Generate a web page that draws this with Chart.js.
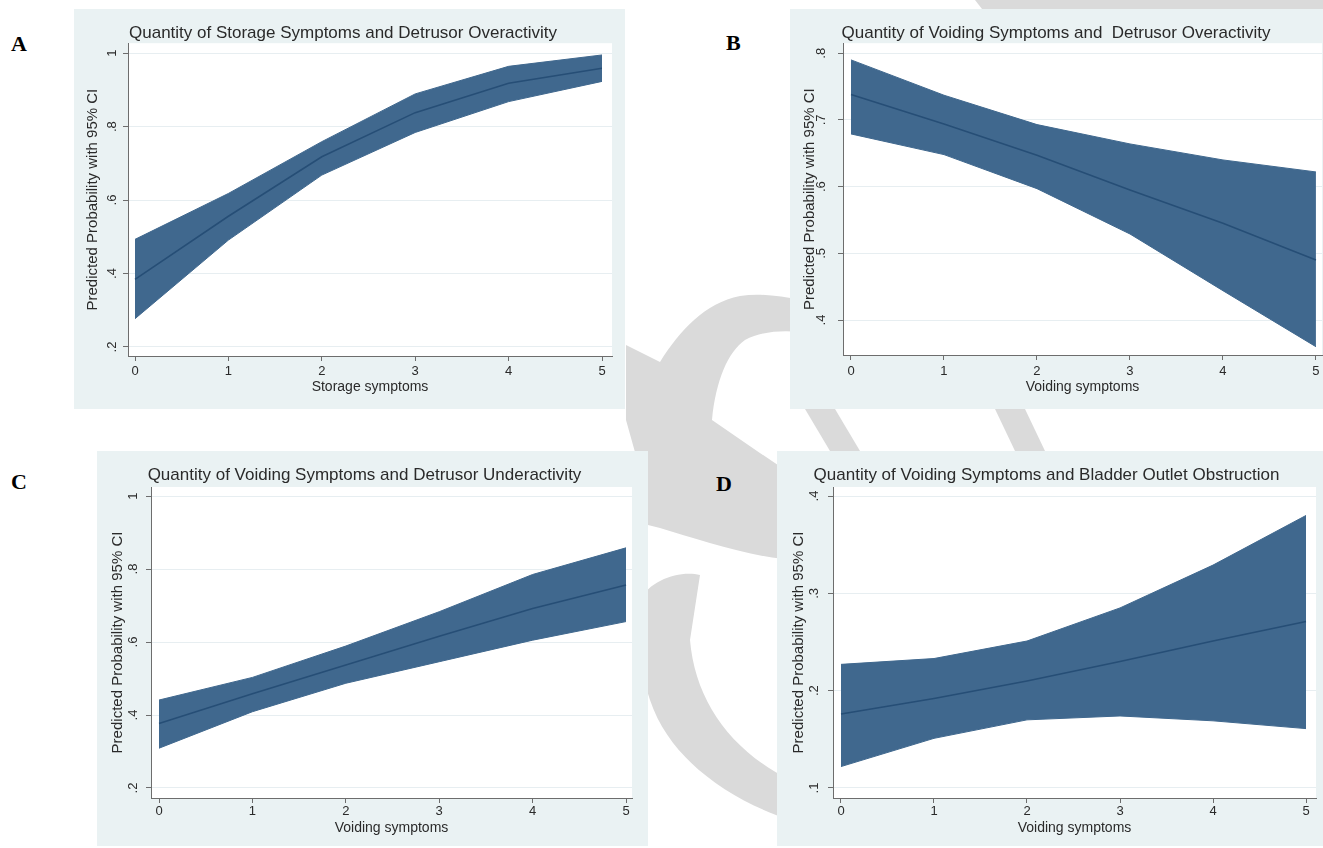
<!DOCTYPE html>
<html><head><meta charset="utf-8">
<script src="https://cdn.jsdelivr.net/npm/chart.js@4"></script>
<style>
html,body{margin:0;padding:0;background:#fff;}
body{width:1323px;height:848px;overflow:hidden;position:relative;}
canvas{position:absolute;}
svg.wm{position:absolute;left:0;top:0;}
.lbl{position:absolute;font:bold 22px "Liberation Serif","Times New Roman",serif;color:#000;line-height:1;}
</style></head><body>
<svg class="wm" width="1323" height="848" viewBox="0 0 1323 848">
  <g fill="#dadada">
    <path d="M626,345 L660,362 C680,330 705,303 740,296 C760,293 780,296 800,300 L800,332 C780,330 760,332 745,340 C728,352 716,380 712,420 L757,451 L800,480 L800,560 C760,560 700,540 660,528 L648,525 L640,470 L626,420 Z"/>
    <path d="M640,600 C650,580 680,570 700,575 L690,640 C695,700 730,750 790,780 L790,820 C730,800 670,760 650,700 C640,670 636,630 640,600 Z"/>
    <path d="M805,409 L835,409 L860,451 L830,451 Z"/>
    <path d="M995,409 L1025,409 L1045,451 L1015,451 Z"/>
    <path d="M975,0 L1323,0 L1323,9 L982,9 Z"/>
  </g>
</svg>
<div class="lbl" style="left:11px;top:33px">A</div>
<div class="lbl" style="left:726px;top:32px">B</div>
<div class="lbl" style="left:11px;top:471px">C</div>
<div class="lbl" style="left:716px;top:473px">D</div>
<canvas id="cA"></canvas>
<canvas id="cB"></canvas>
<canvas id="cC"></canvas>
<canvas id="cD"></canvas>
<script>
// ---------- data ----------
const xValues = [0, 1, 2, 3, 4, 5];
const xTickValues = [0, 1, 2, 3, 4, 5];
const xTickLabels = ['0', '1', '2', '3', '4', '5'];
const yAxisTitle = 'Predicted Probability with 95% CI';

const titleA = 'Quantity of Storage Symptoms and Detrusor Overactivity';
const xTitleA = 'Storage symptoms';
const yTickValuesA = [0.2, 0.4, 0.6, 0.8, 1];
const yTickLabelsA = ['.2', '.4', '.6', '.8', '1'];
const upperA = [0.493, 0.618, 0.759, 0.889, 0.964, 0.995];
const lowerA = [0.277, 0.491, 0.668, 0.784, 0.868, 0.923];
const fitA   = [0.384, 0.556, 0.718, 0.838, 0.918, 0.959];

const titleB = 'Quantity of Voiding Symptoms and  Detrusor Overactivity';
const xTitleB = 'Voiding symptoms';
const yTickValuesB = [0.4, 0.5, 0.6, 0.7, 0.8];
const yTickLabelsB = ['.4', '.5', '.6', '.7', '.8'];
const upperB = [0.790, 0.737, 0.693, 0.664, 0.640, 0.622];
const lowerB = [0.679, 0.648, 0.597, 0.529, 0.444, 0.360];
const fitB   = [0.738, 0.694, 0.647, 0.595, 0.545, 0.490];

const titleC = 'Quantity of Voiding Symptoms and Detrusor Underactivity';
const xTitleC = 'Voiding symptoms';
const yTickValuesC = [0.2, 0.4, 0.6, 0.8, 1];
const yTickLabelsC = ['.2', '.4', '.6', '.8', '1'];
const upperC = [0.441, 0.503, 0.589, 0.683, 0.785, 0.858];
const lowerC = [0.309, 0.409, 0.487, 0.546, 0.605, 0.656];
const fitC   = [0.377, 0.458, 0.537, 0.616, 0.692, 0.756];

const titleD = 'Quantity of Voiding Symptoms and Bladder Outlet Obstruction';
const xTitleD = 'Voiding symptoms';
const yTickValuesD = [0.1, 0.2, 0.3, 0.4];
const yTickLabelsD = ['.1', '.2', '.3', '.4'];
const upperD = [0.227, 0.233, 0.251, 0.285, 0.329, 0.380];
const lowerD = [0.122, 0.151, 0.170, 0.174, 0.169, 0.161];
const fitD   = [0.176, 0.192, 0.210, 0.230, 0.251, 0.271];

// ---------- layout & style ----------
const FONT = '"Liberation Sans", Arial, Helvetica, sans-serif';
const TITLE_SIZE = 17, AXIS_TITLE_SIZE = 14, Y_TITLE_SIZE = 15, TICK_SIZE = 13, TL = 5;
const BG = '#eaf2f3', BAND = '#40688e', LINE = '#264e76', AXIS = '#6d6d6d', TEXT = '#2a2a2a', GRID = '#e7eef1';

const layouts = {
  A: {bg:[74,9,625,409],  area:[128,43,612,356], xr:[-0.075,5.107], yr:[0.1755,1.027], titleY:33, yTitleX:93,  yLabX:112, xLabY:371, xTitleY:387},
  B: {bg:[790,9,1323,409], area:[843,43,1322,355], xr:[-0.086,5.065], yr:[0.3476,0.815], titleY:33, yTitleX:810, yLabX:821, xLabY:371, xTitleY:387},
  C: {bg:[97,451,648,846], area:[151,487,632,798], xr:[-0.0857,5.064], yr:[0.1726,1.0247], titleY:475, yTitleX:118, yLabX:133, xLabY:811, xTitleY:828},
  D: {bg:[777,451,1323,846], area:[833,487,1316,798], xr:[-0.086,5.1075], yr:[0.0897,0.40925], titleY:475, yTitleX:799, yLabX:814, xLabY:811, xTitleY:828}
};

const panelData = {
  A: {title:titleA, xTitle:xTitleA, yv:yTickValuesA, yl:yTickLabelsA, up:upperA, lo:lowerA, fit:fitA},
  B: {title:titleB, xTitle:xTitleB, yv:yTickValuesB, yl:yTickLabelsB, up:upperB, lo:lowerB, fit:fitB},
  C: {title:titleC, xTitle:xTitleC, yv:yTickValuesC, yl:yTickLabelsC, up:upperC, lo:lowerC, fit:fitC},
  D: {title:titleD, xTitle:xTitleD, yv:yTickValuesD, yl:yTickLabelsD, up:upperD, lo:lowerD, fit:fitD}
};

const measureCtx = document.createElement('canvas').getContext('2d');
function textW(t, size){ measureCtx.font = size + 'px ' + FONT; return measureCtx.measureText(t).width; }

const bgPlugin = {
  id: 'bgPlugin',
  beforeDraw(chart){
    const {ctx, chartArea:a} = chart;
    ctx.save();
    ctx.fillStyle = BG; ctx.fillRect(0, 0, chart.width, chart.height);
    ctx.fillStyle = '#ffffff'; ctx.fillRect(a.left, a.top, a.right - a.left, a.bottom - a.top);
    ctx.restore();
  }
};

function pts(vals){ return xValues.map((x, i) => ({x: x, y: vals[i]})); }

function build(key){
  const L = layouts[key], P = panelData[key];
  const W = L.bg[2] - L.bg[0], H = L.bg[3] - L.bg[1];
  const aL = L.area[0] - L.bg[0], aT = L.area[1] - L.bg[1], aR = L.area[2] - L.bg[0], aB = L.area[3] - L.bg[1];
  const cv = document.getElementById('c' + key);
  cv.width = W; cv.height = H;
  cv.style.left = L.bg[0] + 'px'; cv.style.top = L.bg[1] + 'px';
  cv.style.width = W + 'px'; cv.style.height = H + 'px';

  const tLH = TITLE_SIZE * 1.2;
  const tPadTop = (L.titleY - L.bg[1]) - tLH / 2;
  const tPadBot = Math.max(0, aT - tPadTop - tLH);
  const widest = Math.max(...P.yl.map(s => textW(s, TICK_SIZE)));
  const yTickPad = (L.area[0] - L.yLabX) - TL - widest / 2;
  const atLH = AXIS_TITLE_SIZE * 1.2, ytLH = Y_TITLE_SIZE * 1.2;
  const yTitlePad = (L.yTitleX - L.bg[0]) - ytLH / 2;
  const xTickPad = (L.xLabY - L.area[3]) - TL - TICK_SIZE * 1.2 / 2;
  const xTitlePadBot = H - (L.xTitleY - L.bg[1]) - atLH / 2;
  const yW = aL, xH = H - aB;

  new Chart(cv, {
    type: 'line',
    data: {
      datasets: [
        {label:'upper', data: pts(P.up), borderColor: BAND, backgroundColor: BAND, borderWidth: 1, pointRadius: 0, fill: '+1', tension: 0, order: 2},
        {label:'lower', data: pts(P.lo), borderColor: BAND, backgroundColor: BAND, borderWidth: 1, pointRadius: 0, fill: false, tension: 0, order: 2},
        {label:'fit', data: pts(P.fit), borderColor: LINE, borderWidth: 1.6, pointRadius: 0, fill: false, tension: 0, order: 1}
      ]
    },
    options: {
      responsive: false, animation: false, devicePixelRatio: 1,
      layout: {autoPadding: false, padding: {left: 0, top: 0, bottom: 0, right: W - aR}},
      plugins: {
        legend: {display: false}, tooltip: {enabled: false},
        title: {display: true, text: P.title, color: TEXT, font: {family: FONT, size: TITLE_SIZE, weight: 'normal'}, padding: {top: tPadTop, bottom: tPadBot}}
      },
      scales: {
        x: {
          type: 'linear', min: L.xr[0], max: L.xr[1],
          afterBuildTicks: s => { s.ticks = xTickValues.map(v => ({value: v})); },
          afterFit: s => { s.height = xH; },
          ticks: {color: TEXT, font: {family: FONT, size: TICK_SIZE}, padding: xTickPad, maxRotation: 0, autoSkip: false,
                  callback: (v, i) => xTickLabels[i]},
          grid: {drawOnChartArea: false, drawTicks: true, tickLength: TL, tickColor: AXIS, tickWidth: 1},
          border: {display: true, color: AXIS, width: 1},
          title: {display: true, text: P.xTitle, color: TEXT, font: {family: FONT, size: AXIS_TITLE_SIZE}, padding: {top: 0, bottom: xTitlePadBot}}
        },
        y: {
          type: 'linear', min: L.yr[0], max: L.yr[1],
          afterBuildTicks: s => { s.ticks = P.yv.map(v => ({value: v})); },
          afterFit: s => { s.width = yW; },
          ticks: {color: TEXT, font: {family: FONT, size: TICK_SIZE}, padding: yTickPad, minRotation: 90, maxRotation: 90,
                  crossAlign: 'center', autoSkip: false, callback: (v, i) => P.yl[i]},
          grid: {drawOnChartArea: true, color: GRID, lineWidth: 1, drawTicks: true, tickLength: TL, tickColor: AXIS, tickWidth: 1},
          border: {display: true, color: AXIS, width: 1},
          title: {display: true, text: yAxisTitle, color: TEXT, font: {family: FONT, size: Y_TITLE_SIZE}, padding: {top: yTitlePad, bottom: 0}}
        }
      }
    },
    plugins: [bgPlugin]
  });
}
['A', 'B', 'C', 'D'].forEach(build);
</script>
</body></html>
